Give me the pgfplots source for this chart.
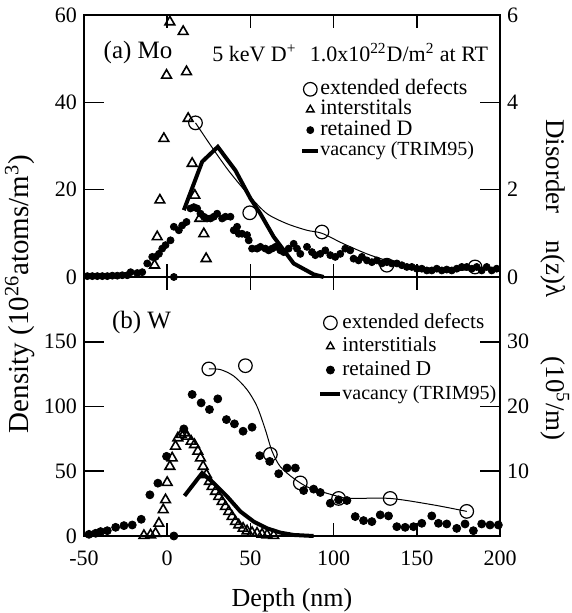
\documentclass[border=0pt]{standalone}
\usepackage{fontspec}
\setmainfont{Liberation Serif}
\usepackage{pgfplots}
\pgfplotsset{compat=1.18}
\begin{document}
\begin{tikzpicture}
\useasboundingbox (-42pt,-38.5pt) rectangle (243.5pt,268pt);
\pgfplotsset{
  panel/.style={scale only axis, width=208pt, xmin=-50, xmax=200,
    axis line style={line width=0.8pt},
    every tick/.style={line width=0.8pt, black},
    tick label style={font=\fontsize{11}{13}\selectfont},
    /pgf/number format/assume math mode=true,
    clip=false},
  yonly/.style={xtick=\empty, major tick length=10pt},
  xonly/.style={ytick=\empty, xtick={-50,0,50,100,150,200}, xtick pos=both, major tick length=6.5pt, ymin=0, ymax=1, xticklabel style={yshift=-4pt}},
  tri/.style={only marks, mark=triangle, mark size=2.8pt, mark options={fill=white, line width=0.8pt}},
  dot/.style={only marks, mark=*, mark size=#1, mark options={fill=black}},
  circ/.style={only marks, mark=o, mark size=3.4pt, mark options={fill=white, line width=0.6pt}},
  legmark/.style={legend image code/.code={\path (0pt,0pt) (#1,0pt); \draw[##1] plot coordinates {(#1/2,0pt)};}},
  legline/.style={legend image code/.code={\draw[##1] (0pt,0pt) -- (#1,0pt);}},
}
% ================= TOP PANEL (a) Mo =================
\begin{axis}[panel, yonly, at={(0pt,129.5pt)}, height=131pt, ymin=0, ymax=60, ytick={0,20,40,60}, ytick pos=left]
\addplot[tri] coordinates {(1.6,58.4)(9.6,56.2)(-0.4,46.2)(11.6,47.0)(12.6,36.3)(-2,31.7)(15,26)(-4.4,17.6)(16.6,18.7)(-6,9.2)(19.6,13.4)(22,9.9)(-7.6,2.7)(23.4,4.2)};
\addplot[line width=2pt] coordinates {(10,15.3)(21,26.4)(30.4,29.8)(41,24.4)(50,18)(56,14.5)(64,9.2)(76,3.1)(88,0.6)(94,0)};
\addplot[dot=1.75pt] coordinates {(-48,0.2)(-45,0.2)(-42,0.2)(-39,0.2)(-36,0.2)(-33,0.3)(-30,0.3)(-27,0.4)(-24,0.4)(-22,1.1)(-18,0.9)(-15,1.1)(-12,3.1)(-9,4.6)(-7,4.6)(-5,5.3)(-3,6.5)(-1,7.3)(2,8.4)(4,0)(4,11.5)(7,10.7)(9,11.8)(11.6,12.6)(14,15.7)(16,16)(18,15.7)(20,14.5)(22,13.8)(24,13.4)(26,13.4)(28,13.8)(30,14.5)(33,13.4)(35,13.8)(38,13.8)(40,10.7)(42,11.5)(43,9.9)(45,9.9)(48,9.6)(49,8.4)(51,6.5)(54,6.5)(56,6.9)(59,6.5)(61,6.1)(63,6.5)(65,6.9)(68,6.1)(70,5.7)(73,6.5)(76,7.6)(78,6.5)(80,5.3)(84,6.9)(87,5.7)(89,5.0)(92,5.3)(95,6.1)(98,5.0)(101,4.6)(104,5.3)(107,6.5)(110,6.1)(112,4.2)(115,3.8)(117,4.6)(120,3.8)(123,3.4)(126,3.8)(129,3.1)(132,3.4)(135,3.1)(138,3.1)(141,2.7)(144,2.3)(147,2.3)(150,1.9)(153,1.9)(156,1.5)(159,1.5)(162,1.9)(165,1.5)(168,1.7)(171,1.5)(174,1.9)(177,2.3)(180,2.3)(183,1.9)(186,2.3)(189,1.5)(192,2.3)(195,1.5)(198,1.9)};
\node[font=\fontsize{12.5}{14}\selectfont] at (axis cs:-17.5,51.5) {(a) Mo};
\node[font=\fontsize{11}{13}\selectfont] at (axis cs:110,51.5) {5 keV D\textsuperscript{+}\hspace{0.6em}1.0x10\textsuperscript{22}D/m\textsuperscript{2} at RT};
\end{axis}
\begin{axis}[panel, yonly, at={(0pt,129.5pt)}, height=131pt, ymin=0, ymax=6, ytick={0,2,4,6}, ytick pos=right]
\addplot[line width=0.5pt, smooth] coordinates {(17,3.53)(26,3.02)(36,2.48)(44,2.1)(50,1.83)(60,1.45)(72,1.22)(84,1.07)(93,1.0)(106,0.76)(120,0.53)(132,0.38)(150,0.23)(170,0.15)(185,0.17)(200,0.2)};
\addplot[circ] coordinates {(17,3.53)(49.6,1.47)(93,1.03)(132,0.27)(185,0.23)};
\end{axis}
\begin{axis}[panel, xonly, at={(0pt,129.5pt)}, height=131pt, xticklabels={},
  legend style={draw=none, fill=none, at={(0.519,0.756)}, anchor=north west,
    font=\fontsize{11}{12}\selectfont, row sep=0.2pt, inner sep=0pt,
    nodes={inner sep=0pt, text height=7.5pt, text depth=2.5pt},
    /tikz/every even column/.append style={column sep=3.5pt}},
  legend cell align=left]
\addlegendimage{circ, legmark=8pt}
\addlegendentry{extended defects}
\addlegendimage{only marks, mark=triangle, mark size=2.2pt, mark options={line width=0.7pt}, legmark=8pt}
\addlegendentry{interstitals}
\addlegendimage{dot=1.75pt, legmark=8pt}
\addlegendentry{retained D}
\addlegendimage{line width=2pt, legline=8pt}
\addlegendentry{\fontsize{10}{12}\selectfont vacancy (TRIM95)}
\end{axis}
% ================= BOTTOM PANEL (b) W =================
\begin{axis}[panel, yonly, at={(0pt,0pt)}, height=129.5pt, ymin=0, ymax=200, ytick={0,50,100,150}, ytick pos=left]
\addplot[dot=2pt] coordinates {(-47,1.3)(-43,2.1)(-40,3.4)(-36,4.1)(-31,6.7)(-26,8)(-21,8.5)(-15.6,12.9)(-10.4,31.8)(-5.6,40.8)(-0.4,61.5)(4,0)(10,82.7)(15,109.3)(20.4,102.8)(25.4,97.7)(30.4,105.9)(35.6,89.9)(40.4,86.6)(45.6,80.9)(51,84)(55.6,62)(61.6,57.6)(67,48.1)(72,52.5)(77,52.5)(82,35.1)(88,36.2)(92,33.6)(98,25.3)(103,27.9)(108,27.4)(113,15)(118,11.9)(123,11.1)(128,16.3)(133,15.5)(138,7.2)(143,6.7)(148,7.2)(153,9.8)(159,15.5)(163,9.8)(168,9.3)(174,5.9)(179,9.3)(184,4.1)(189,9.3)(194,8.5)(199,8.5)};
\addplot[tri] coordinates {(-14,0.3)(-10,0.8)(-7,2)(-5,9.8)(-2.4,20.2)(-1,27.9)(0,41.3)(1.6,53.7)(3,60.2)(5,69.3)(6.4,75.7)(8.4,78.3)(10.4,79.6)(12,77)(14.4,73.1)(16.4,70.5)(18.4,65.4)(20,60.2)(21.6,53.7)(23.6,47.3)(25.4,42.1)(27,38.2)(29,34.4)(31,30.5)(33,26.6)(35,22.7)(37,18.9)(39,15)(41,11.1)(43,8.5)(45.6,5.9)(48,3.9)(51,2.6)(54,2.1)(57,1.3)(60,0.8)(64,0.3)};
\addplot[line width=2pt] coordinates {(10.4,31)(21,48.6)(28,40.8)(36,30.5)(44,18.9)(52,11.1)(60,5.9)(68,2.6)(76,0.8)(88,0)};
\node[font=\fontsize{12.5}{14}\selectfont] at (axis cs:-15.4,165) {(b) W};
\end{axis}
\begin{axis}[panel, yonly, at={(0pt,0pt)}, height=129.5pt, ymin=0, ymax=40, ytick={10,20,30}, ytick pos=right]
\addplot[line width=0.5pt, smooth] coordinates {(25,25.8)(32,25.7)(40,24.7)(48,22.6)(54,20)(59,16.4)(63,13.1)(68,10.7)(76,8.9)(84,7.6)(92,6.9)(103,6.1)(110,5.8)(134,5.8)(160,4.8)(180,3.8)};
\addplot[circ] coordinates {(25,25.8)(47,26.3)(62,12.6)(80,8.2)(103,5.8)(134,5.8)(180,3.8)};
\end{axis}
\begin{axis}[panel, xonly, at={(0pt,0pt)}, height=129.5pt,
  legend style={draw=none, fill=none, at={(0.5625,0.865)}, anchor=north west,
    font=\fontsize{10.6}{12}\selectfont, row sep=1.3pt, inner sep=0pt,
    nodes={inner sep=0pt, text height=8pt, text depth=2.5pt},
    /tikz/every even column/.append style={column sep=4pt}},
  legend cell align=left]
\addlegendimage{circ, legmark=10pt}
\addlegendentry{extended defects}
\addlegendimage{only marks, mark=triangle, mark size=2.2pt, mark options={line width=0.7pt}, legmark=10pt}
\addlegendentry{interstitials}
\addlegendimage{dot=2pt, legmark=10pt}
\addlegendentry{retained D}
\addlegendimage{line width=2pt, legline=10pt}
\addlegendentry{\fontsize{10}{12}\selectfont vacancy (TRIM95)}
\end{axis}
% ================= axis titles =================
\node[rotate=90, font=\fontsize{14.5}{16}\selectfont] at (-32pt,121pt) {Density (10\textsuperscript{26}atoms/m\textsuperscript{3})};
\node[rotate=-90, font=\fontsize{13.5}{15}\selectfont] at (235.5pt,128pt) {Disorder\hspace{1em}n(z)λ\hspace{2.2em}(10\textsuperscript{5}/m)};
\node[font=\fontsize{13}{15}\selectfont] at (104pt,-32pt) {Depth (nm)};
\end{tikzpicture}
\end{document}
